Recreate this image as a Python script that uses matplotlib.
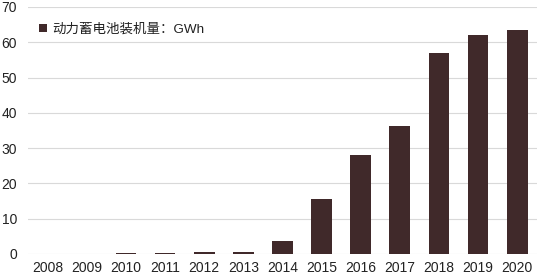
import matplotlib
matplotlib.use("Agg")
import matplotlib.pyplot as plt
import numpy as np

years = ["2008", "2009", "2010", "2011", "2012", "2013", "2014",
         "2015", "2016", "2017", "2018", "2019", "2020"]
capacity_gwh = [0.0, 0.0, 0.3, 0.3, 0.6, 0.6, 3.7,
                15.7, 28.0, 36.4, 56.9, 62.2, 63.6]
series_label = "动力蓄电池装机量：GWh"

BAR_COLOR = "#40292a"
FONTS = ["Liberation Sans", "Noto Sans CJK SC", "DejaVu Sans"]
plt.rcParams["font.family"] = FONTS

fig = plt.figure(figsize=(5.4, 2.8), dpi=100, facecolor="white")
ax = fig.add_axes([0.052, 0.093, 0.942, 0.882])

x = np.arange(len(years))
ax.bar(x, capacity_gwh, width=0.53, color=BAR_COLOR, label=series_label, zorder=3)

ax.set_xlim(-0.5, len(years) - 0.5)
ax.set_ylim(0, 70)
ax.set_yticks(range(0, 71, 10))
ax.set_xticks(x)
ax.set_xticklabels(years)
ax.tick_params(length=0, labelsize=10, colors="#222", pad=5)
ax.tick_params(axis="y", pad=8)
ax.grid(axis="y", color="#d9d9d9", linewidth=0.8, zorder=0)
for spine in ax.spines.values():
    spine.set_visible(False)

leg = ax.legend(loc="upper left", bbox_to_anchor=(0.01, 0.955), frameon=False,
                fontsize=9.7, handlelength=0.6, handleheight=0.6,
                handletextpad=0.4, borderaxespad=0)
for t in leg.get_texts():
    t.set_color("#222")

fig.savefig("out.png", dpi=100, facecolor="white")
